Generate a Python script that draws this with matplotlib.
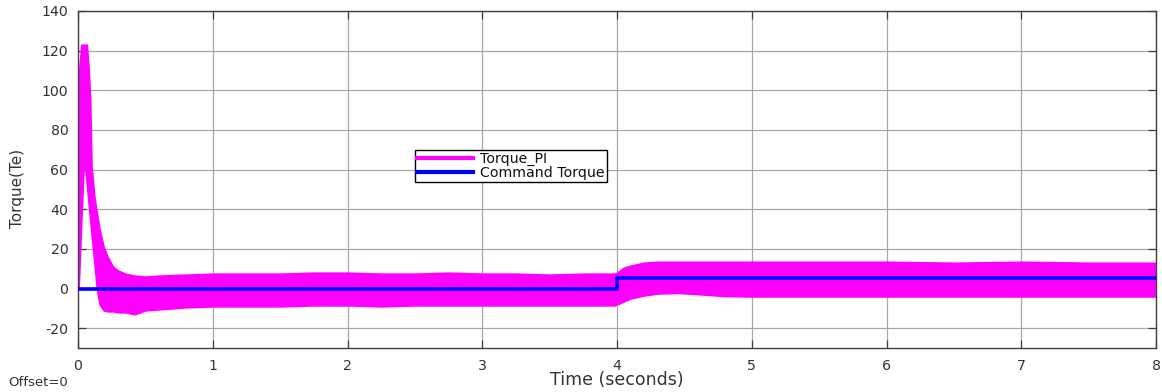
import matplotlib
matplotlib.use("Agg")
import matplotlib.pyplot as plt
from matplotlib.lines import Line2D

# Torque_PI response: envelope of the fast-switching electromagnetic torque
time_s = [0.0, 0.005, 0.025, 0.045, 0.065, 0.08, 0.09, 0.10, 0.12, 0.14,
          0.16, 0.19, 0.22, 0.26, 0.30, 0.35, 0.42, 0.50, 0.60, 0.80,
          1.00, 1.25, 1.50, 1.75, 2.00, 2.25, 2.50, 2.75, 3.00, 3.25,
          3.50, 3.75, 3.98, 4.00, 4.05, 4.10, 4.20, 4.30, 4.45, 4.60,
          4.80, 5.00, 5.50, 6.00, 6.50, 7.00, 7.50, 8.00]
torque_upper = [0, 107, 123, 123, 123, 110, 96, 62, 47, 38,
                30, 21, 16, 11, 9, 7.5, 6.5, 6, 6.5, 7,
                7.5, 7.5, 7.5, 8, 8, 7.5, 7.5, 8, 7.5, 7.5,
                7, 7.5, 7.5, 8, 10.5, 11.5, 13, 13.5, 13.5, 13.5,
                13.5, 13.5, 13.5, 13.5, 13, 13.5, 13, 13]
torque_lower = [0, 1, 35, 67, 53, 42, 35, 28, 14, 0,
                -8, -11, -11.5, -11.5, -12, -12, -13, -11, -10.5, -9.5,
                -9, -9, -9, -8.5, -8.5, -9, -8.5, -8.5, -8.5, -8.5,
                -8.5, -8.5, -8.5, -8, -6.5, -5, -3.5, -2.5, -2.2, -2.8,
                -3.8, -4, -4, -4, -4, -4, -4, -4]

# Command torque: step at t = 4 s
cmd_time = [0.0, 4.0, 8.0]
cmd_torque = [0.0, 5.5, 5.5]

x_ticks = [0, 1, 2, 3, 4, 5, 6, 7, 8]
y_ticks = [-20, 0, 20, 40, 60, 80, 100, 120, 140]

TXT = "#333333"
AX = "#404040"
plt.rcParams["font.family"] = ["DejaVu Sans"]
plt.rcParams["axes.unicode_minus"] = False

fig = plt.figure(figsize=(11.62, 3.92), dpi=100)
ax = fig.add_axes([78 / 1162, 44 / 392, 1078 / 1162, 337 / 392])

ax.fill_between(time_s, torque_lower, torque_upper, color="#ff00ff",
                linewidth=1.2, edgecolor="#ff00ff", zorder=2)
ax.plot(cmd_time, cmd_torque, drawstyle="steps-post", color="#0000ff",
        linewidth=2.6, zorder=3)

ax.set_xlim(0, 8)
ax.set_ylim(-30, 140)
ax.set_xticks(x_ticks)
ax.set_yticks(y_ticks)
ax.grid(True, color="#a8a8a8", linewidth=0.9)
ax.set_axisbelow(True)
ax.tick_params(direction="in", length=6, width=0.9, color=AX,
               top=True, right=True, labelsize=10.2, labelcolor=TXT, pad=7)
ax.tick_params(axis="x", pad=8)
for sp in ax.spines.values():
    sp.set_color(AX)
    sp.set_linewidth(1.0)

fig.text(617 / 1162, 1 - 380 / 392, "Time (seconds)", ha="center",
         va="center", fontsize=12.5, color=TXT)
fig.text(18 / 1162, 1 - 188 / 392, "Torque(Te)", rotation=90, ha="center",
         va="center", fontsize=11, color=TXT)
fig.text(8 / 1162, 1 - 382 / 392, "Offset=0", ha="left", va="center",
         fontsize=9.5, color=TXT)

handles = [Line2D([], [], color="#ff00ff", linewidth=3),
           Line2D([], [], color="#0000ff", linewidth=3)]
leg = ax.legend(handles, ["Torque_PI", "Command Torque"],
                loc="upper left", bbox_to_anchor=(0.3126, 0.5875),
                fontsize=10.2, frameon=True, fancybox=False,
                handlelength=4.0, handletextpad=0.5, borderpad=0.12,
                labelspacing=0.0, borderaxespad=0)
leg.get_frame().set_edgecolor("black")
leg.get_frame().set_linewidth(1.0)
leg.get_frame().set_alpha(1.0)
for t in leg.get_texts():
    t.set_color("#111111")

fig.savefig("out.png", dpi=100, facecolor="white")
